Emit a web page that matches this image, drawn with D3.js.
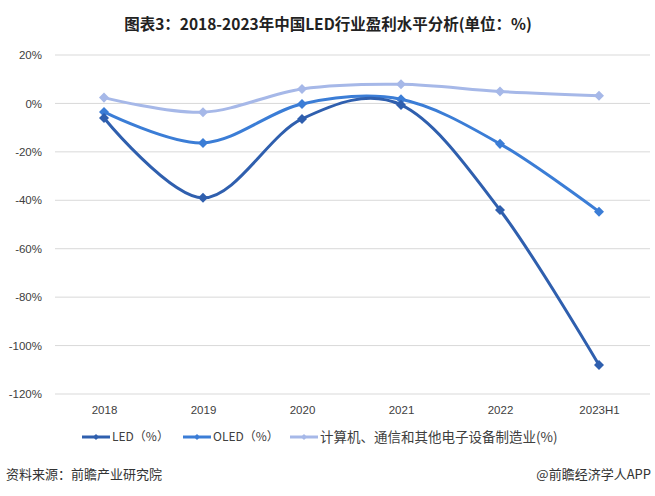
<!DOCTYPE html>
<html>
<head>
<meta charset="utf-8">
<script src="https://cdn.jsdelivr.net/npm/d3@7"></script>
<style>
  body { margin: 0; background: #fff; }
  svg text { font-family: "Noto Sans CJK SC", "Microsoft YaHei", sans-serif; }
</style>
</head>
<body>
<svg id="chart"></svg>
<script>
const years = ["2018", "2019", "2020", "2021", "2022", "2023H1"];
const ledValues = [-6.0, -39.0, -6.4, -0.6, -44.0, -108.0];
const oledValues = [-3.5, -16.3, -0.2, 1.7, -16.7, -44.7];
const industryValues = [2.4, -3.6, 6.0, 7.9, 4.9, 3.2];
const yTicks = [20, 0, -20, -40, -60, -80, -100, -120];

const series = [
  {name: "LED（%）", values: ledValues, color: "#2f5fae"},
  {name: "OLED（%）", values: oledValues, color: "#3b7dd6"},
  {name: "计算机、通信和其他电子设备制造业(%)", values: industryValues, color: "#a6b8e8"}
];

const W = 655, H = 496;
const margin = {top: 55, right: 5, bottom: 102, left: 55},
      width = W - margin.left - margin.right,
      height = H - margin.top - margin.bottom;

const root = d3.select("#chart").attr("width", W).attr("height", H);

root.append("text")
    .attr("x", 328).attr("y", 30)
    .attr("text-anchor", "middle")
    .style("font-size", "15.5px").style("font-weight", "bold").style("fill", "#222")
    .text("图表3：2018-2023年中国LED行业盈利水平分析(单位：%)");

const svg = root.append("g")
    .attr("transform", `translate(${margin.left},${margin.top})`);

const x = d3.scalePoint().domain(years).range([49, 544]);
const y = d3.scaleLinear().domain([-120, 20]).range([height, 0]);

// gridlines
svg.append("g")
    .selectAll("line")
    .data(yTicks)
    .enter().append("line")
    .attr("x1", 0).attr("x2", width)
    .attr("y1", d => y(d)).attr("y2", d => y(d))
    .attr("stroke", "#d9d9d9").attr("stroke-width", 1);

const yAxis = svg.append("g")
    .call(d3.axisLeft(y).tickValues(yTicks).tickFormat(d => d + "%").tickSize(0).tickPadding(13));
yAxis.select(".domain").remove();
yAxis.selectAll("text").style("font-size", "11.5px").style("fill", "#404040")
    .style("font-family", "'Liberation Sans', Arial, sans-serif");

const xAxis = svg.append("g")
    .attr("transform", `translate(0,${height})`)
    .call(d3.axisBottom(x).tickSize(0).tickPadding(12));
xAxis.select(".domain").remove();
xAxis.selectAll("text").style("font-size", "11.5px").style("fill", "#404040")
    .style("font-family", "'Liberation Sans', Arial, sans-serif");

const line = d3.line()
    .x((d, i) => x(years[i]))
    .y(d => y(d))
    .curve(d3.curveCardinal.tension(0));

const diamond = d3.symbol().type(d3.symbolDiamond2).size(64);

// draw lightest first so darker lines sit on top
series.slice().reverse().forEach(s => {
    svg.append("path")
        .datum(s.values)
        .attr("d", line)
        .attr("fill", "none")
        .attr("stroke", s.color)
        .attr("stroke-width", 3);
    svg.selectAll(null)
        .data(s.values)
        .enter().append("path")
        .attr("d", diamond)
        .attr("transform", (d, i) => `translate(${x(years[i])},${y(d)})`)
        .attr("fill", s.color);
});

// legend
const legendX = [82, 183, 290];
const legendSize = ["12px", "12px", "13.5px"];
const legend = root.append("g").attr("transform", "translate(0,437)");
series.forEach((s, i) => {
    const g = legend.append("g").attr("transform", `translate(${legendX[i]},0)`);
    g.append("line").attr("x1", 0).attr("x2", 28).attr("y1", 0).attr("y2", 0)
        .attr("stroke", s.color).attr("stroke-width", 3);
    g.append("path").attr("d", d3.symbol().type(d3.symbolDiamond2).size(24))
        .attr("transform", "translate(14,0)").attr("fill", s.color);
    g.append("text").attr("x", 30).attr("y", 0).attr("dy", "0.35em")
        .style("font-size", legendSize[i]).style("fill", "#404040")
        .text(s.name);
});

root.append("text")
    .attr("x", 6).attr("y", 479)
    .style("font-size", "13px").style("fill", "#333")
    .text("资料来源：前瞻产业研究院");

root.append("text")
    .attr("x", 651).attr("y", 479)
    .attr("text-anchor", "end")
    .style("font-size", "13px").style("fill", "#333")
    .text("@前瞻经济学人APP");
</script>
</body>
</html>
